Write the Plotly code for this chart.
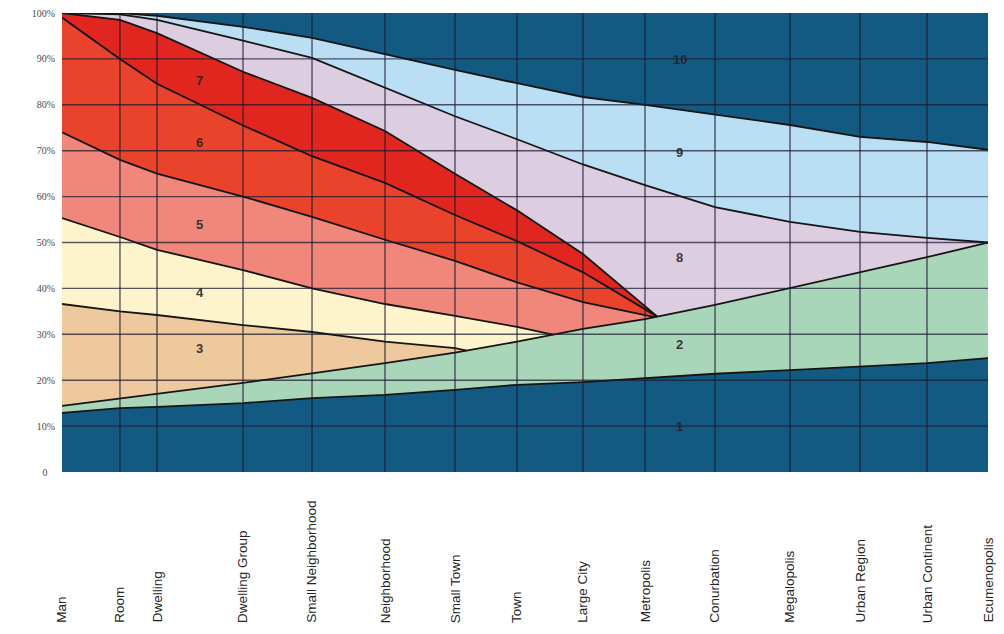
import numpy as np
import plotly.graph_objects as go

# ---- data ----
units = ["Man", "Room", "Dwelling", "Dwelling Group", "Small Neighborhood",
         "Neighborhood", "Small Town", "Town", "Large City", "Metropolis",
         "Conurbation", "Megalopolis", "Urban Region", "Urban Continent", "Ecumenopolis"]
# relative position of each ekistic unit on the horizontal scale (0-100)
unit_scale = [0, 6.26, 10.26, 19.55, 27.0, 34.88, 42.44, 49.14, 56.26, 62.96,
              70.52, 78.62, 86.18, 93.41, 100]

# upper boundaries (%) of the bands, read at each unit
line1 = [12.9, 13.9, 14.2, 15.0, 16.1, 16.8, 17.9, 19.0, 19.6, 20.5, 21.4, 22.2, 22.9, 23.7, 24.8]
line2 = [14.4, 16.0, 17.0, 19.4, 21.5, 23.7, 26.0, 28.4, 31.2, 33.3, 36.4, 40.1, 43.6, 46.8, 50.0]
line3 = [36.6, 35.0, 34.2, 32.0, 30.5, 28.4, 27.0]
line4 = [55.3, 51.2, 48.4, 44.0, 40.0, 36.6, 34.0, 31.6]
line5 = [74.0, 68.0, 65.0, 60.0, 55.6, 50.6, 46.0, 41.3, 37.0]
line6 = [99.0, 90.0, 84.6, 75.5, 68.8, 63.0, 56.0, 50.3, 43.5]
line7 = [100, 98.5, 95.6, 87.2, 81.5, 74.3, 65.0, 57.0, 47.5]
line8 = [100, 99.7, 98.5, 94.0, 90.2, 83.7, 77.5, 72.5, 67.0, 62.5, 57.7, 54.5, 52.3, 51.0, 50.0]
line9 = [100, 100, 99.4, 97.0, 94.6, 91.0, 87.6, 84.7, 81.7, 80.0, 77.8, 75.6, 73.0, 71.9, 70.2]
# scale position where a band wedges out onto line2
line3_end = 43.7
line4_end = 53.0
line5_end = 64.0
line6_end = 64.3
line7_end = 64.3

band_names = ["1", "2", "3", "4", "5", "6", "7", "8", "9", "10"]
band_colors = ["#135a83", "#a9d6b9", "#eec99e", "#fdf4cb", "#f0877a",
               "#e9432c", "#e0261f", "#ddcde0", "#badff4", "#135a83"]
label_x = [66.7, 66.7, 14.9, 14.9, 14.9, 14.9, 14.9, 66.7, 66.7, 66.7]
label_y = [10.0, 27.7, 26.8, 39.2, 54.0, 71.7, 85.4, 46.8, 69.7, 89.8]

y_ticks = [0, 10, 20, 30, 40, 50, 60, 70, 80, 90, 100]
y_ticktext = ["0\u00a0\u00a0\u00a0", "10%", "20%", "30%", "40%", "50%", "60%", "70%", "80%", "90%", "100%"]

# ---- geometry helpers ----
xs_all = np.array(unit_scale, dtype=float)
b2 = np.array(line2, dtype=float)


def own_segment(vals, end=None):
    n = len(vals)
    x = list(xs_all[:n])
    y = list(vals)
    if end is not None:
        x.append(end)
        y.append(float(np.interp(end, xs_all, b2)))
    return x, y


def full_boundary(vals, end=None):
    x, y = own_segment(vals, end)
    if end is not None:
        mask = xs_all > end
        x += list(xs_all[mask])
        y += list(b2[mask])
    return x, y


n = len(unit_scale)
bounds = [
    (list(xs_all), [0.0] * n),
    full_boundary(line1),
    full_boundary(line2),
    full_boundary(line3, line3_end),
    full_boundary(line4, line4_end),
    full_boundary(line5, line5_end),
    full_boundary(line6, line6_end),
    full_boundary(line7, line7_end),
    full_boundary(line8),
    full_boundary(line9),
    (list(xs_all), [100.0] * n),
]

fig = go.Figure()

for k in range(10):
    lx, ly = bounds[k]
    ux, uy = bounds[k + 1]
    px = ux + lx[::-1]
    py = uy + ly[::-1]
    fig.add_trace(go.Scatter(x=px, y=py, mode="lines", fill="toself",
                             fillcolor=band_colors[k], line=dict(width=0),
                             hoverinfo="skip", showlegend=False))

segments = [own_segment(line1), own_segment(line2),
            own_segment(line3, line3_end), own_segment(line4, line4_end),
            own_segment(line5, line5_end), own_segment(line6, line6_end),
            own_segment(line7, line7_end), own_segment(line8), own_segment(line9)]
for sx, sy in segments:
    fig.add_trace(go.Scatter(x=sx, y=sy, mode="lines",
                             line=dict(color="#151515", width=1.8),
                             hoverinfo="skip", showlegend=False))

grid_color = "rgba(25,25,45,0.72)"
for xv in unit_scale[1:-1]:
    fig.add_shape(type="line", xref="x", yref="y", x0=xv, x1=xv, y0=0, y1=100,
                  line=dict(color=grid_color, width=1.4), layer="above")
for yv in y_ticks[1:-1]:
    fig.add_shape(type="line", xref="x", yref="y", x0=0, x1=100, y0=yv, y1=yv,
                  line=dict(color=grid_color, width=1.4), layer="above")

for name, lxv, lyv in zip(band_names, label_x, label_y):
    fig.add_annotation(x=lxv, y=lyv, text="<b>%s</b>" % name, showarrow=False,
                       font=dict(family="Liberation Sans", size=13, color="rgba(35,35,35,0.9)"))

for name, xv in zip(units, unit_scale):
    fig.add_annotation(x=xv, xref="x", y=-0.333, yref="paper", text=name,
                       textangle=-90, showarrow=False, xanchor="center", yanchor="bottom",
                       font=dict(family="Liberation Sans", size=13.5, color="#262626"))

fig.update_layout(
    width=996, height=626,
    margin=dict(l=54, r=16, t=5, b=162, autoexpand=False),
    paper_bgcolor="white", plot_bgcolor="white",
    showlegend=False,
    xaxis=dict(range=[0, 100], showgrid=False, zeroline=False, showticklabels=False,
               ticks="", showline=False, fixedrange=True, automargin=False),
    yaxis=dict(range=[0, 100], tickvals=y_ticks, ticktext=y_ticktext, showgrid=False,
               zeroline=False, ticks="", showline=False, ticklabelstandoff=6,
               automargin=False, ticklabeloverflow="allow",
               tickfont=dict(family="Liberation Serif", size=10, color="#4a4a4a"),
               fixedrange=True),
)

fig.write_html("out.html")
